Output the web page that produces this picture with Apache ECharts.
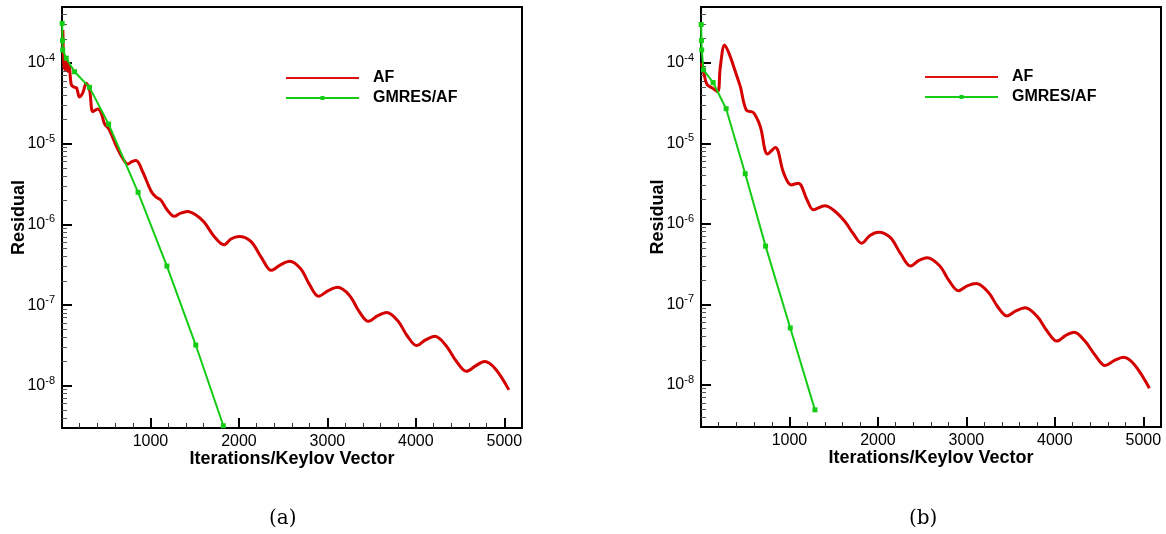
<!DOCTYPE html>
<html>
<head>
<meta charset="utf-8">
<script src="https://cdn.jsdelivr.net/npm/echarts@6/dist/echarts.min.js"></script>
<style>
html,body{margin:0;padding:0;background:#fff;}
#chart{width:1166px;height:534px;}
</style>
</head>
<body>
<div id="chart"></div>
<script>
// ---- data (iteration, residual) ----
const seriesNames = ['AF', 'GMRES/AF'];
const leftAF = [
  [10, 2.57e-4], [20, 1.0e-4], [35, 8.3e-5], [50, 1.05e-4], [65, 7.9e-5], [80, 9.5e-5],
  [105, 5.4e-5], [140, 5.0e-5], [165, 4.9e-5], [198, 3.8e-5], [236, 4.3e-5], [274, 5.6e-5],
  [311, 4.7e-5], [349, 2.5e-5], [405, 2.7e-5], [443, 2.4e-5], [480, 1.78e-5], [536, 1.48e-5],
  [611, 9.5e-6], [686, 6.6e-6], [743, 5.6e-6], [790, 6.0e-6], [837, 6.2e-6], [912, 4.5e-6],
  [1006, 2.6e-6], [1060, 2.2e-6], [1118, 2.0e-6], [1190, 1.51e-6], [1268, 1.26e-6], [1340, 1.38e-6],
  [1419, 1.45e-6], [1510, 1.32e-6], [1606, 1.07e-6], [1720, 7.1e-7], [1831, 5.6e-7], [1910, 6.6e-7],
  [2000, 7.1e-7], [2132, 6.2e-7], [2260, 3.8e-7], [2365, 2.7e-7], [2470, 3.16e-7], [2574, 3.5e-7],
  [2700, 2.8e-7], [2800, 1.78e-7], [2901, 1.29e-7], [3010, 1.51e-7], [3115, 1.66e-7], [3250, 1.32e-7],
  [3360, 8.3e-8], [3464, 6.3e-8], [3570, 7.4e-8], [3671, 8.1e-8], [3800, 6.3e-8], [3900, 4.2e-8],
  [4009, 3.16e-8], [4110, 3.7e-8], [4215, 4.1e-8], [4340, 3.16e-8], [4460, 2.0e-8], [4572, 1.51e-8],
  [4680, 1.78e-8], [4778, 2.0e-8], [4900, 1.62e-8], [5052, 8.9e-9]
];
const leftGMRES = [
  [2, 3.1e-4], [5, 1.9e-4], [8, 1.45e-4], [48, 1.15e-4], [142, 7.8e-5], [311, 5.0e-5],
  [527, 1.75e-5], [860, 2.5e-6], [1186, 3.05e-7], [1512, 3.2e-8], [1824, 3.2e-9]
];
const rightAF = [
  [5, 1.0e-4], [30, 7.6e-5], [68, 5.4e-5], [124, 4.9e-5], [188, 4.4e-5], [218, 8.9e-5],
  [267, 1.67e-4], [323, 1.26e-4], [388, 7.8e-5], [444, 5.1e-5], [512, 2.6e-5], [594, 2.4e-5],
  [670, 1.62e-5], [753, 7.4e-6], [840, 8.9e-6], [934, 4.3e-6], [1020, 3.05e-6], [1100, 3.2e-6],
  [1198, 2.0e-6], [1270, 1.5e-6], [1400, 1.68e-6], [1500, 1.48e-6], [1627, 1.07e-6], [1720, 7.6e-7],
  [1817, 5.75e-7], [1910, 7.2e-7], [2007, 7.9e-7], [2139, 6.8e-7], [2260, 4.2e-7], [2370, 3.0e-7],
  [2460, 3.5e-7], [2557, 3.8e-7], [2700, 3.0e-7], [2800, 2.0e-7], [2911, 1.48e-7], [3010, 1.7e-7],
  [3111, 1.82e-7], [3250, 1.41e-7], [3350, 9.5e-8], [3458, 7.2e-8], [3560, 8.3e-8], [3664, 9.1e-8],
  [3800, 7.1e-8], [3910, 4.7e-8], [4023, 3.5e-8], [4120, 4.1e-8], [4218, 4.5e-8], [4340, 3.5e-8],
  [4460, 2.3e-8], [4568, 1.74e-8], [4670, 2.0e-8], [4775, 2.2e-8], [4900, 1.78e-8], [5069, 9.1e-9]
];
const rightGMRES = [
  [2, 3.0e-4], [5, 1.9e-4], [8, 1.45e-4], [28, 8.2e-5], [137, 5.7e-5], [284, 2.7e-5],
  [500, 4.2e-6], [730, 5.3e-7], [1009, 5.1e-8], [1288, 4.9e-9]
];
// ---- tick labels ----
const iterTicks = [1000, 2000, 3000, 4000, 5000];
const iterMinorTicks = [200, 400, 600, 800, 1200, 1400, 1600, 1800, 2200, 2400, 2600, 2800,
  3200, 3400, 3600, 3800, 4200, 4400, 4600, 4800];
const residualTicks = [1e-8, 1e-7, 1e-6, 1e-5, 1e-4];
const residualMinorTicks = [
  4e-9, 5e-9, 6e-9, 7e-9, 8e-9, 9e-9,
  2e-8, 3e-8, 4e-8, 5e-8, 6e-8, 7e-8, 8e-8, 9e-8,
  2e-7, 3e-7, 4e-7, 5e-7, 6e-7, 7e-7, 8e-7, 9e-7,
  2e-6, 3e-6, 4e-6, 5e-6, 6e-6, 7e-6, 8e-6, 9e-6,
  2e-5, 3e-5, 4e-5, 5e-5, 6e-5, 7e-5, 8e-5, 9e-5,
  2e-4, 3e-4, 4e-4
];
const captions = ['(a)', '(b)'];

const X_MIN = 0, X_MAX = 5200, Y_MIN = 3.0e-9, Y_MAX = 4.95e-4;
const RED = '#d40000', GREEN = '#14cc14';
const FONT = '"Liberation Sans", Arial, Helvetica, sans-serif';

const grids = [
  {left: 62, top: 7, width: 460, height: 421},
  {left: 701, top: 7, width: 460, height: 420}
];

function supLabel(v) {
  const e = Math.round(Math.log10(v));
  return '{b|10}{e|' + e + '}';
}

const xAxes = [], yAxes = [];
grids.forEach((g, i) => {
  xAxes.push({
    type: 'value', gridIndex: i, min: X_MIN, max: X_MAX, position: 'bottom',
    name: 'Iterations/Keylov Vector', nameLocation: 'middle', nameGap: 22, nameMoveOverlap: false,
    nameTextStyle: {fontFamily: FONT, fontWeight: 'bold', fontSize: 18, color: '#000'},
    axisLine: {show: true, lineStyle: {color: '#000', width: 2}},
    axisTick: {show: true, inside: true, length: 10, customValues: iterTicks, lineStyle: {color: '#000', width: 2}},
    axisLabel: {show: true, customValues: iterTicks, margin: 6, formatter: v => String(v),
      fontFamily: FONT, fontSize: 16, color: '#000'},
    splitLine: {show: false}
  });
  yAxes.push({
    type: 'log', logBase: 10, gridIndex: i, min: Y_MIN, max: Y_MAX, position: 'left',
    name: 'Residual', nameLocation: 'middle', nameGap: 34, nameMoveOverlap: false,
    nameTextStyle: {fontFamily: FONT, fontWeight: 'bold', fontSize: 18, color: '#000'},
    axisLine: {show: true, lineStyle: {color: '#000', width: 2}},
    axisTick: {show: true, inside: true, length: 10, customValues: residualTicks, lineStyle: {color: '#000', width: 2}},
    axisLabel: {
      show: true, customValues: residualTicks, margin: 7, formatter: supLabel,
      rich: {
        b: {fontFamily: FONT, fontSize: 16, color: '#000'},
        e: {fontFamily: FONT, fontSize: 11, color: '#000', padding: [0, 0, 10, 0]}
      }
    },
    splitLine: {show: false}
  });
});
// minor tick axes
grids.forEach((g, i) => {
  xAxes.push({
    type: 'value', gridIndex: i, min: X_MIN, max: X_MAX, position: 'bottom',
    axisLine: {show: false}, axisLabel: {show: false}, splitLine: {show: false},
    axisTick: {show: true, inside: true, length: 5, customValues: iterMinorTicks, lineStyle: {color: '#333', width: 1}}
  });
  yAxes.push({
    type: 'log', logBase: 10, gridIndex: i, min: Y_MIN, max: Y_MAX, position: 'left',
    axisLine: {show: false}, axisLabel: {show: false}, splitLine: {show: false},
    axisTick: {show: true, inside: true, length: 5, customValues: residualMinorTicks, lineStyle: {color: '#555', width: 1}}
  });
});

function afSeries(data, i) {
  return {
    name: seriesNames[0], type: 'line', xAxisIndex: i, yAxisIndex: i, data: data,
    smooth: 0.35, symbol: 'none', lineStyle: {color: RED, width: 3}, itemStyle: {color: RED}
  };
}
function gmSeries(data, i) {
  return {
    name: seriesNames[1], type: 'line', xAxisIndex: i, yAxisIndex: i, data: data,
    smooth: false, symbol: 'rect', symbolSize: 5, lineStyle: {color: GREEN, width: 2},
    itemStyle: {color: GREEN}
  };
}

const legendBase = {
  orient: 'vertical', padding: 0, itemWidth: 73, itemHeight: 12, itemGap: 4,
  data: [
    {name: seriesNames[0], icon: 'path://M0,1H73V3H0Z', itemStyle: {color: '#e01010'}},
    {name: seriesNames[1], icon: 'path://M0,1H34.5V0H38.5V1H73V3H38.5V4H34.5V3H0Z', itemStyle: {color: GREEN}}
  ],
  selectedMode: false,
  textStyle: {fontFamily: FONT, fontWeight: 'bold', fontSize: 16, color: '#000', padding: [0, 0, 0, 9]}
};

const option = {
  animation: false,
  backgroundColor: '#fff',
  grid: grids.map(g => Object.assign({show: true, borderColor: '#000', borderWidth: 2, backgroundColor: 'transparent'}, g)),
  xAxis: xAxes,
  yAxis: yAxes,
  legend: [
    Object.assign({left: 286, top: 70}, legendBase),
    Object.assign({left: 925, top: 69}, legendBase)
  ],
  title: [
    {text: captions[0], left: 264, top: 504, textStyle: {fontFamily: '"DejaVu Serif", "Liberation Serif", serif', fontWeight: 'normal', fontSize: 20, color: '#000'}},
    {text: captions[1], left: 904, top: 504, textStyle: {fontFamily: '"DejaVu Serif", "Liberation Serif", serif', fontWeight: 'normal', fontSize: 20, color: '#000'}}
  ],
  series: [
    afSeries(leftAF, 0), gmSeries(leftGMRES, 0),
    afSeries(rightAF, 1), gmSeries(rightGMRES, 1)
  ]
};

const chart = echarts.init(document.getElementById('chart'), null, {renderer: 'canvas'});
chart.setOption(option);
</script>
</body>
</html>
